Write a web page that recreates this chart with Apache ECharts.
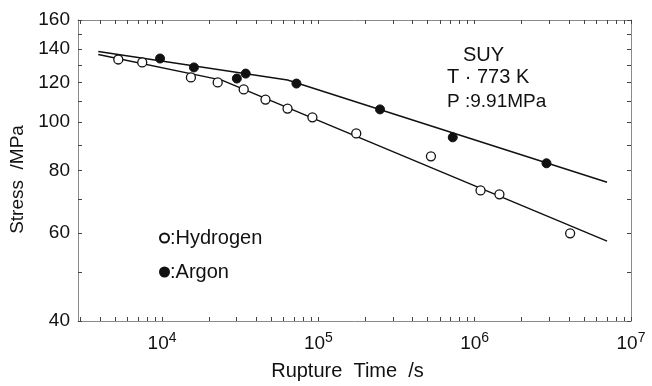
<!DOCTYPE html>
<html><head><meta charset="utf-8">
<script src="https://cdn.jsdelivr.net/npm/echarts@6/dist/echarts.min.js"></script>
<style>html,body{margin:0;padding:0;background:#fff}#c{width:652px;height:386px}</style>
</head><body><div id="c"></div>
<script>
// Data
const hydrogenTime   = [5250, 7470, 15300, 22700, 33300, 45900, 63500, 91600, 174700, 525000, 1090000, 1440000, 4080000];
const hydrogenStress = [133.4, 131.6, 122.8, 120.0, 116.2, 110.9, 106.4, 102.2, 94.9, 85.4, 73.0, 71.7, 59.9];
const argonTime   = [9710, 16000, 30100, 34300, 72400, 248000, 724000, 2880000];
const argonStress = [134.0, 128.6, 122.2, 125.0, 119.4, 106.0, 93.2, 82.7];
// Fitted lines (bilinear)
const hydrogenFitTime   = [3910, 24100, 7030000];
const hydrogenFitStress = [136.5, 121.3, 57.8];
const argonFitTime   = [3910, 63500, 7030000];
const argonFitStress = [138.4, 121.4, 75.8];
// Axis ticks
const xLabelValues = [1e4, 1e5, 1e6, 1e7];
const yLabelValues = [40, 60, 80, 100, 120, 140, 160];
const xMinorTicks = [3000,4000,5000,6000,7000,8000,9000,10000,20000,30000,40000,50000,60000,70000,80000,90000,
  100000,200000,300000,400000,500000,600000,700000,800000,900000,1e6,2e6,3e6,4e6,5e6,6e6,7e6,8e6,9e6,1e7];
const yTicks = [40,50,60,70,80,90,100,110,120,130,140,150,160];
const annotation = ['SUY', 'T · 773 K', 'P :9.91MPa'];

const pair = (xs, ys) => xs.map((x, i) => [x, ys[i]]);
const FONT = '"Liberation Sans", Arial, sans-serif';
const INK = '#111';
const FRAME = '#8a8a8a';

const chart = echarts.init(document.getElementById('c'), null, {renderer: 'canvas'});
const baseX = {
  type: 'log', min: 2900, max: 1e7, logBase: 10,
  axisLine: {show: true, onZero: false, lineStyle: {color: FRAME, width: 1}},
  axisTick: {show: true, inside: true, length: 4, customValues: xMinorTicks, lineStyle: {color: '#444'}},
  minorTick: {show: false},
  splitLine: {show: false}
};
const baseY = {
  type: 'log', min: 40, max: 160, logBase: 10,
  axisLine: {show: true, onZero: false, lineStyle: {color: FRAME, width: 1}},
  axisTick: {show: true, inside: true, length: 4, customValues: yTicks, lineStyle: {color: '#444'}},
  splitLine: {show: false}
};
chart.setOption({
  animation: false,
  backgroundColor: '#fff',
  grid: {left: 78, right: 21, top: 20, bottom: 64},
  xAxis: [
    Object.assign({}, baseX, {
      position: 'bottom',
      name: 'Rupture  Time  /s', nameLocation: 'middle', nameGap: 40,
      nameTextStyle: {fontFamily: FONT, fontSize: 20, color: INK, padding: [0, 14, 0, 0]},
      axisLabel: {
        show: true, customValues: xLabelValues, margin: 10,
        formatter: v => '{b|10}{s|' + Math.round(Math.log10(v)) + '}',
        rich: {
          b: {fontFamily: FONT, fontSize: 19, color: INK, verticalAlign: 'bottom', lineHeight: 22},
          s: {fontFamily: FONT, fontSize: 14, color: INK, verticalAlign: 'top', lineHeight: 22, padding: [0, 0, 8, 0]}
        }
      }
    }),
    Object.assign({}, baseX, {position: 'top', axisLabel: {show: false}})
  ],
  yAxis: [
    Object.assign({}, baseY, {
      position: 'left',
      name: 'Stress  /MPa', nameLocation: 'middle', nameGap: 47, nameRotate: 90,
      nameTextStyle: {fontFamily: FONT, fontSize: 19, color: INK, padding: [0, 18, 0, 0]},
      axisLabel: {show: true, customValues: yLabelValues, margin: 8,
        fontFamily: FONT, fontSize: 19, color: INK}
    }),
    Object.assign({}, baseY, {position: 'right', axisLabel: {show: false}})
  ],
  legend: {
    orient: 'vertical', left: 154, top: 223, itemGap: 14,
    itemWidth: 9, itemHeight: 9,
    textStyle: {fontFamily: FONT, fontSize: 20, color: INK, padding: [0, 0, 0, -4]},
    formatter: n => ':' + n,
    data: ['Hydrogen', 'Argon']
  },
  graphic: annotation.map((t, i) => ({
    type: 'text', left: [463, 447, 447][i], top: [45, 67, 92][i],
    style: {text: t, font: [20, 20, 19][i] + 'px ' + FONT, fill: INK}
  })),
  series: [
    {name: 'Hydrogen fit', type: 'line', data: pair(hydrogenFitTime, hydrogenFitStress),
      showSymbol: false, lineStyle: {color: INK, width: 1.5}, z: 2, silent: true},
    {name: 'Argon fit', type: 'line', data: pair(argonFitTime, argonFitStress),
      showSymbol: false, lineStyle: {color: INK, width: 1.5}, z: 2, silent: true},
    {name: 'Hydrogen', type: 'scatter', data: pair(hydrogenTime, hydrogenStress),
      symbol: 'circle', symbolSize: 9, itemStyle: {color: '#fff', borderColor: INK, borderWidth: 1.3, opacity: 1}, z: 3},
    {name: 'Argon', type: 'scatter', data: pair(argonTime, argonStress),
      symbol: 'circle', symbolSize: 9, itemStyle: {color: INK, borderColor: INK, borderWidth: 1, opacity: 1}, z: 3}
  ]
});
</script></body></html>
